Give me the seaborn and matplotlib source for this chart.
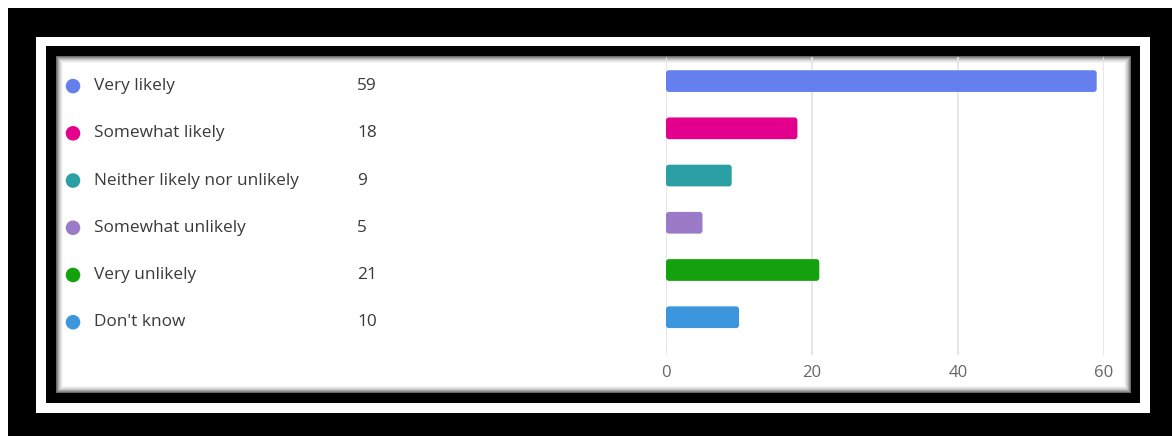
import matplotlib
matplotlib.use("Agg")
import matplotlib.pyplot as plt
import seaborn as sns
import pandas as pd
from matplotlib.patches import Rectangle, FancyBboxPatch

categories = ["Very likely", "Somewhat likely", "Neither likely nor unlikely",
              "Somewhat unlikely", "Very unlikely", "Don't know"]
counts = [59, 18, 9, 5, 21, 10]
colors = ["#6580EE", "#E3008C", "#2AA0A4", "#9B7BC8", "#13A10E", "#3B96DD"]
xticks = [0, 20, 40, 60]

sns.set_theme(style="white")
plt.rcParams['font.family'] = ['Open Sans', 'DejaVu Sans']

W, H = 1172, 436
fig = plt.figure(figsize=(W / 100, H / 100), dpi=100, facecolor="white")

# decorative frame (pixel space)
bg = fig.add_axes([0, 0, 1, 1])
bg.set_xlim(0, W)
bg.set_ylim(H, 0)
bg.axis("off")
bg.add_patch(Rectangle((8, 8), W - 8, H - 8, color="black", lw=0))
bg.add_patch(Rectangle((36, 37), 1150 - 36, 413 - 37, color="white", lw=0))
bg.add_patch(Rectangle((46, 46), 1140 - 46, 403 - 46, color="black", lw=0))
px0, py0, px1, py1 = 56, 56, 1131, 393
shades = ["#6a6a6a", "#8c8c8c", "#aaaaaa", "#c4c4c4", "#d9d9d9", "#e9e9e9", "#f5f5f5", "white"]
for i, c in enumerate(shades):
    bg.add_patch(Rectangle((px0 + i, py0 + i), (px1 - px0) - 2 * i, (py1 - py0) - 2 * i,
                           color=c, lw=0))

# main bar axes
top_px, bot_px = 57, 355
left_px, right_px = 666, 1104
ax_rect = [left_px / W, (H - bot_px) / H, (right_px - left_px) / W, (bot_px - top_px) / H]
ax = fig.add_axes(ax_rect)
ax.patch.set_alpha(0)

df = pd.DataFrame({"category": categories, "count": counts})
sns.barplot(data=df, x="count", y="category", hue="category", palette=colors,
            legend=False, ax=ax, width=0.46, orient="h", saturation=1)

ylim = (5.8, -0.51)
ax.set_xlim(0, 60)
ax.set_ylim(*ylim)

# rounded bars
xr = 0.4
yr_per_x = (6.31 / (bot_px - top_px)) / (60 / (right_px - left_px))
for p in list(ax.patches):
    x, y = p.get_x(), p.get_y()
    w, h = p.get_width(), p.get_height()
    fc = p.get_facecolor()
    p.set_visible(False)
    fb = FancyBboxPatch((x, y), w, h,
                        boxstyle=f"round,pad=0,rounding_size={xr}",
                        mutation_aspect=yr_per_x, fc=fc, ec="none", zorder=3)
    ax.add_patch(fb)

ax.set_xticks(xticks)
ax.set_xticklabels([str(t) for t in xticks])
ax.set_yticks([])
ax.set_xlabel("")
ax.set_ylabel("")
for s in ax.spines.values():
    s.set_visible(False)
ax.xaxis.grid(True, color="#e3e3e3", lw=1.2)
ax.set_axisbelow(True)
ax.tick_params(axis="x", length=0, pad=7, labelsize=12, labelcolor="#666666")

# legend-like list on the left
off = 5 / H
lax = fig.add_axes([px0 / W, ax_rect[1] - off, (left_px - px0) / W, ax_rect[3]])
lax.set_xlim(px0, left_px)
lax.set_ylim(*ylim)
lax.axis("off")
lax.patch.set_alpha(0)
ys = list(range(len(categories)))
lax.scatter([73] * len(ys), ys, c=colors, s=110, lw=0)
for yv, lab, val in zip(ys, categories, counts):
    lax.text(94, yv, lab, va="center", ha="left", fontsize=12.4, color="#3a3a3a")
    lax.text(357, yv, str(val), va="center", ha="left", fontsize=12.4, color="#3a3a3a")

fig.savefig("out.png", dpi=100, facecolor="white")
